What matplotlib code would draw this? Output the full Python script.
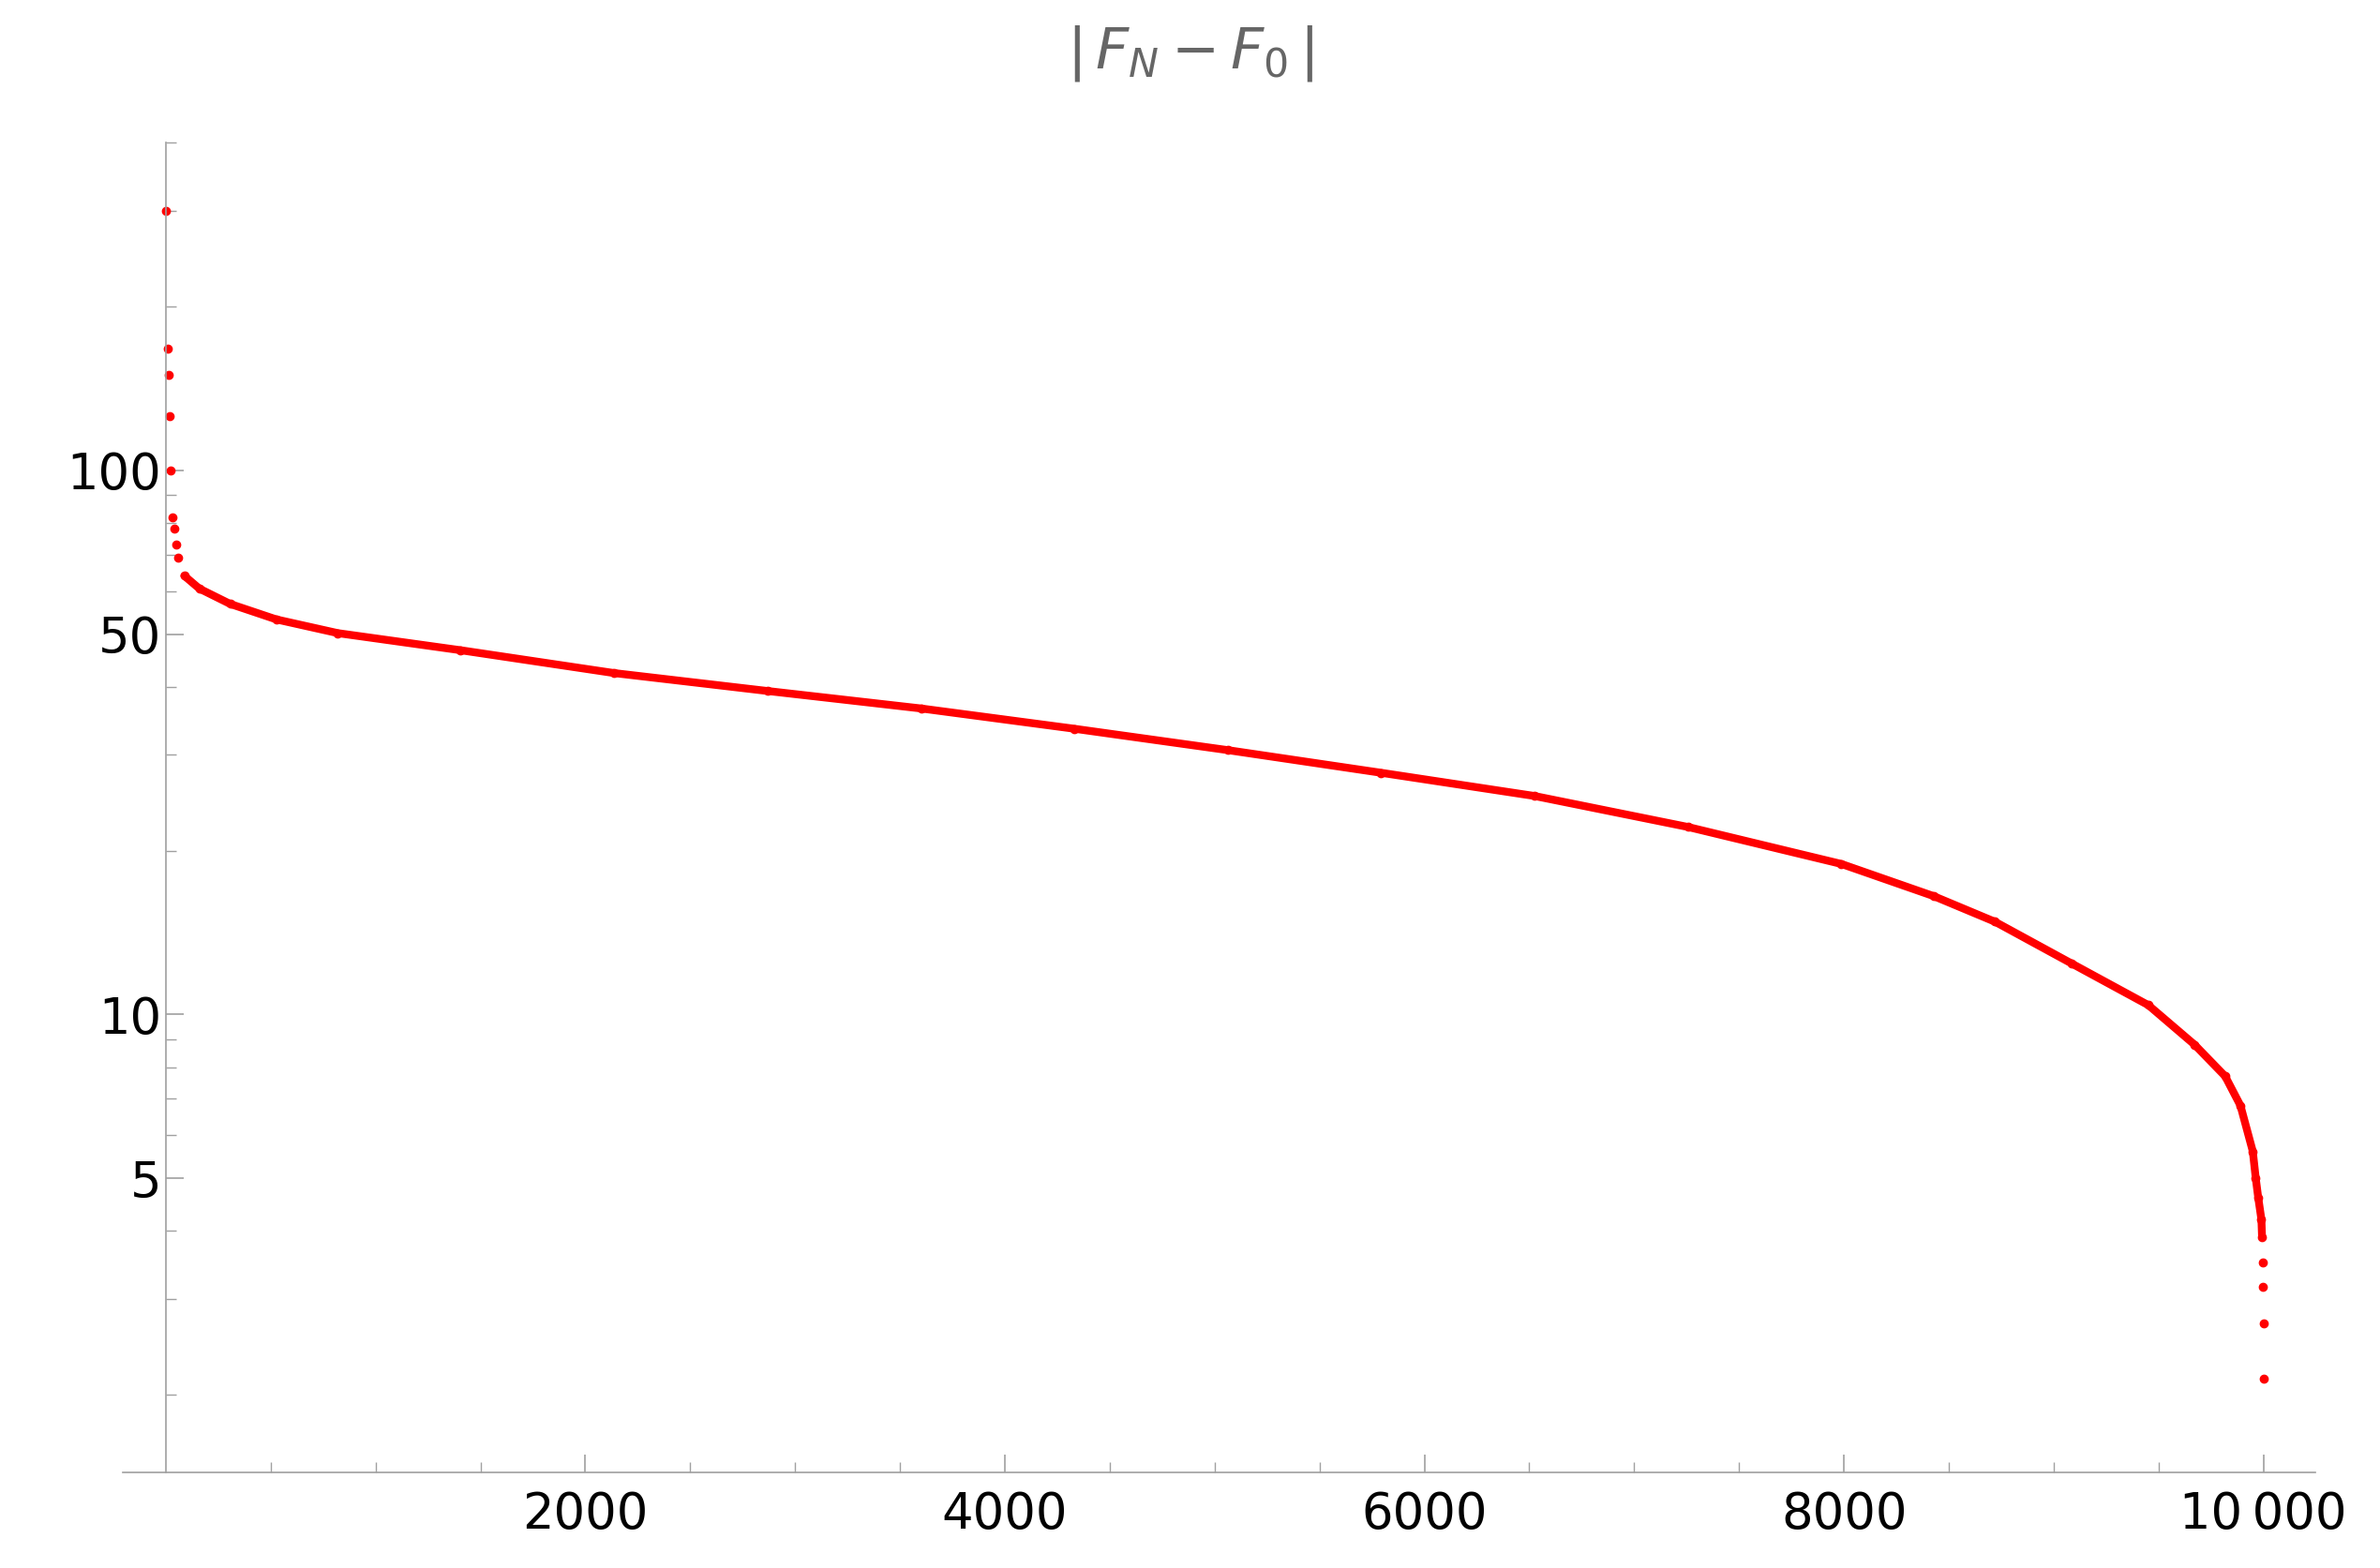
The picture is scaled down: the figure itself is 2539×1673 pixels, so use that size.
import numpy as np
import matplotlib.pyplot as plt
from matplotlib.ticker import FixedLocator, LogLocator, NullFormatter, FuncFormatter

# values (index, |F_N - F_0|), sorted descending
index = [0, 10, 15, 20, 25, 30, 40, 50, 60, 88, 160, 307, 527, 820, 1405,
         2136, 2868, 3600, 4330, 5062, 5794, 6525, 7257, 7988, 8427, 8720,
         9086, 9451, 9671, 9817, 9890, 9949, 9963, 9975, 9990, 9993, 9995,
         9998, 9999, 10000]
value = [300, 167, 150, 126, 100, 82, 78, 73, 69, 64, 60.6, 56.8, 53.2, 50.2,
         46.7, 42.4, 39.3, 36.5, 33.5, 30.6, 27.8, 25.2, 22.1, 18.9, 16.5,
         14.8, 12.4, 10.4, 8.8, 7.7, 6.8, 5.6, 5.0, 4.6, 4.2, 3.9, 3.5,
         3.16, 2.7, 2.14]

fig = plt.figure(figsize=(25.39, 16.73), dpi=100)
ax = fig.add_axes([0.0516, 0.061, 0.9214, 0.848])

ax.plot(index[9:36], value[9:36], color='red', lw=6, solid_capstyle='round')
ax.plot(index, value, 'o', color='red', ms=6)

ax.set_yscale('log')
ax.set_xlim(-205, 10249)
ax.set_ylim(1.44, 400)

for s in ['top', 'right']:
    ax.spines[s].set_visible(False)
for s in ['left', 'bottom']:
    ax.spines[s].set_color('#a0a0a0')
    ax.spines[s].set_linewidth(1.2)
ax.spines['left'].set_position(('data', 0))

ax.xaxis.set_major_locator(FixedLocator([2000, 4000, 6000, 8000, 10000]))
ax.xaxis.set_minor_locator(FixedLocator(np.arange(500, 10001, 500)))
ax.set_xticklabels(['2000', '4000', '6000', '8000', '10\u2009000'])

ax.yaxis.set_major_locator(FixedLocator([5, 10, 50, 100]))
ax.yaxis.set_major_formatter(FuncFormatter(lambda v, p: f'{v:g}'))
ax.yaxis.set_minor_locator(LogLocator(base=10, subs=np.arange(2, 10), numticks=20))
ax.yaxis.set_minor_formatter(NullFormatter())

ax.tick_params(which='major', length=14, width=1.2, color='#a0a0a0', labelsize=38, direction='in')
ax.tick_params(which='minor', length=8, width=1, color='#a0a0a0', direction='in')
ax.tick_params(axis='x', pad=14)

fig.suptitle(r'$|\,F_N - F_0\,|$', y=0.985, fontsize=44, color='#666666')

fig.savefig('out.png', dpi=100)
